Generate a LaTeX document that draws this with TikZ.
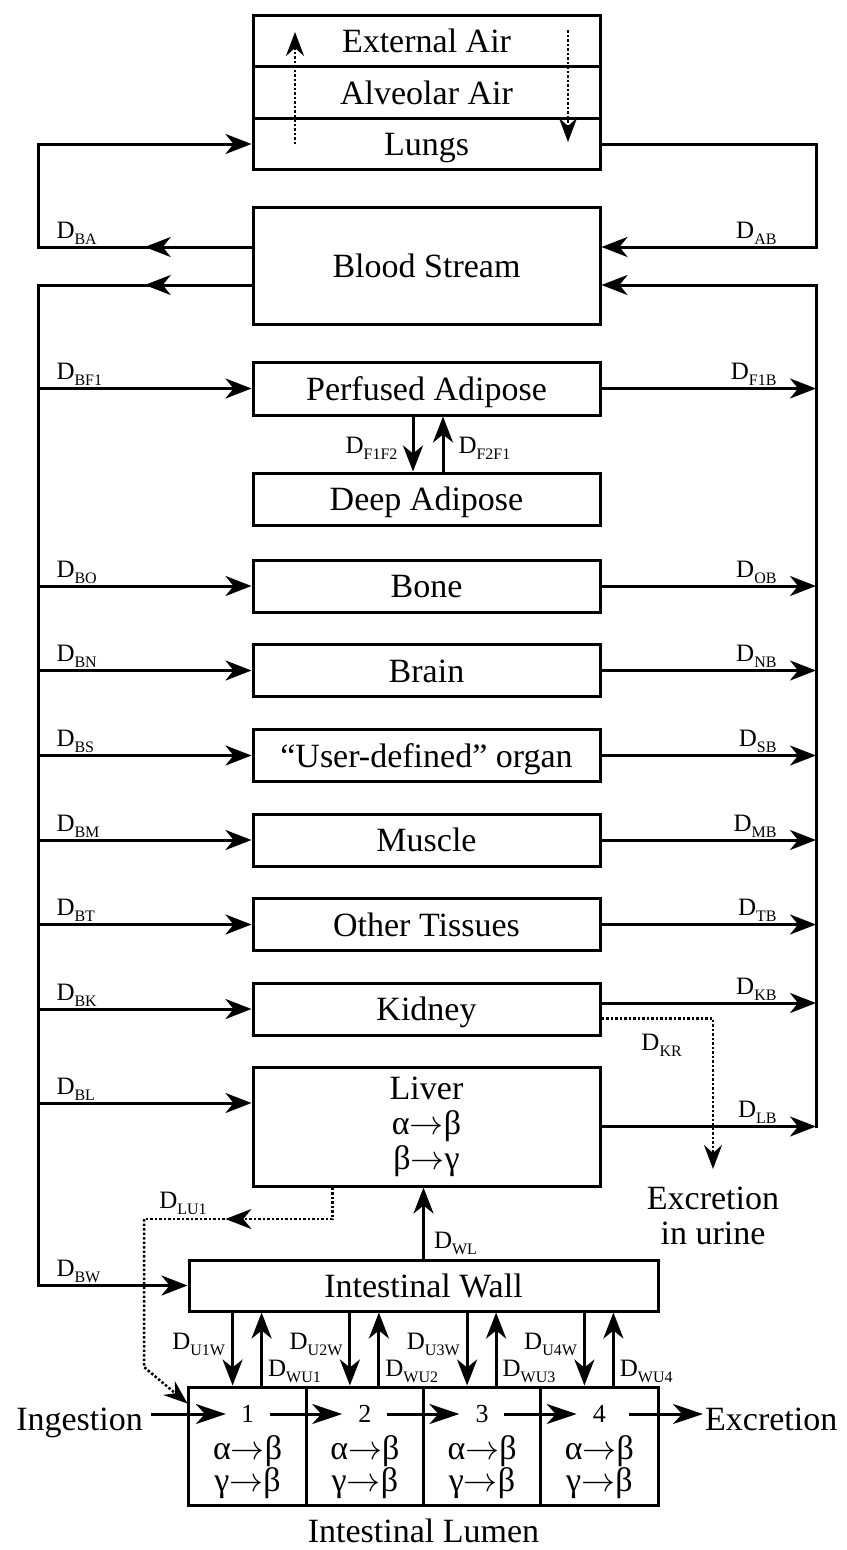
\RequirePackage{fix-cm}
\documentclass[tikz,border=0pt]{standalone}
\usepackage{fontspec}
\setmainfont{Liberation Serif}
\usetikzlibrary{arrows.meta,decorations.markings}

\newcommand{\flux}[1]{D\raisebox{-6pt}{\fontsize{16}{16}\selectfont #1}}
\newcommand{\rx}[2]{#1$\rightarrow$#2}

\tikzset{
  organ/.style={draw, line width=3pt, minimum width=347pt, minimum height=52pt,
    inner sep=0pt, font=\fontsize{34}{34}\selectfont},
  oneline/.style={organ, text height=23pt, text depth=0pt},
  cell/.style={draw, line width=3pt, minimum width=117.25pt, minimum height=118pt},
  txt/.style={inner sep=0pt, font=\fontsize{34}{34}\selectfont},
  lab/.style={inner sep=0pt, font=\fontsize{25}{25}\selectfont},
  inlab/.style={lab, pos=0, anchor=base west, xshift=17pt, yshift=9pt},
  outlab/.style={lab, pos=1, anchor=base east, xshift=-38pt, yshift=9pt},
  ln/.style={line width=3pt, line cap=rect},
  ar/.style={ln, -{Stealth[length=26pt, width=20pt, inset=8pt]}},
  flow/.style={ar, -{Stealth[length=30pt, width=20pt, inset=9pt]}, shorten <=17pt, shorten >=16pt},
  dotline/.style={line width=2.5pt, dash pattern=on 2.5pt off 2pt},
  dotar/.style={dotline, -{Stealth[length=24pt, width=18pt, inset=8pt]}},
  midar/.style={postaction={decorate}, decoration={markings,
    mark=at position #1 with {\arrow{Stealth[length=26pt, width=20pt, inset=8pt]}}}},
}

\begin{document}
\begin{tikzpicture}[x=1pt, y=-1pt]
\useasboundingbox (0,0) rectangle (846,1550);

\node[oneline, minimum height=51.7pt] (ext) at (426.5,41) {External Air};
\node[oneline, minimum height=51.7pt] (alv) at (426.5,92.5) {Alveolar Air};
\node[oneline, minimum height=51.7pt] (lungs) at (426.5,144) {Lungs};
\node[oneline, minimum height=117pt] (blood) at (426.5,265.5) {Blood Stream};
\node[oneline, minimum height=53pt] (perf) at (426.5,388.5) {Perfused Adipose};
\node[oneline] (deep) at (426.5,499) {Deep Adipose};
\node[oneline] (bone) at (426.5,586) {Bone};
\node[oneline] (brain) at (426.5,670.5) {Brain};
\node[oneline] (user) at (426.5,755.5) {“User-defined” organ};
\node[oneline] (muscle) at (426.5,840) {Muscle};
\node[oneline] (other) at (426.5,924.5) {Other Tissues};
\node[oneline] (kidney) at (426.5,1009) {Kidney};
\node[organ, minimum height=119pt, align=center, font=\fontsize{34}{35}\selectfont] (liver) at (426.5,1126.5) {Liver\\\rx{α}{β}\\\rx{β}{γ}};
\node[oneline, minimum width=469pt, minimum height=51pt] (wall) at (423.5,1285.5) {Intestinal Wall};
\node[txt, align=center, anchor=north, font=\fontsize{34}{35}\selectfont] (urine) at (713,1187) {Excretion\\in urine};

\coordinate (lb) at (38,285);
\coordinate (rb) at (816,285);
\coordinate (ba) at (38,247);
\coordinate (ab) at (816,247);

% air exchange
\draw[dotar] ([xshift=-131.5pt]lungs.center) -- ([xshift=-131.5pt, yshift=9pt]ext.center);
\draw[dotar] ([xshift=141.5pt, yshift=11pt]ext.center) -- ([xshift=141.5pt, yshift=2pt]lungs.center);

\draw[ln, midar=0.5] ([yshift=18.5pt]blood.west) -- node[lab, pos=1, anchor=base west, xshift=17pt, yshift=9pt] {\flux{BA}} (ba);
\draw[ar] (ba) |- (lungs.west);
\draw[ar] (lungs.east) -| (ab) -- node[outlab, pos=0] {\flux{AB}} ([yshift=18.5pt]blood.east);

\draw[ln, midar=0.5] ([yshift=-19.5pt]blood.west) -- (lb);
\draw[ar] (lb) |- node[inlab, pos=0.5] {\flux{BW}} (wall.west);
\draw[ar] (liver.east -| rb) -- (rb) -- ([yshift=-19.5pt]blood.east);

\foreach \n/\l/\r in {perf/BF1/F1B, bone/BO/OB, brain/BN/NB, user/BS/SB, muscle/BM/MB, other/BT/TB} {
  \draw[ar] (\n.west -| lb) -- node[inlab] {\flux{\l}} (\n.west);
  \draw[ar] (\n.east) -- node[outlab] {\flux{\r}} (\n.east -| rb);
}

\draw[ar] ([xshift=-13.5pt]perf.south) -- node[lab, left, xshift=-14pt, yshift=-4pt] {\flux{F1F2}} ([xshift=-13.5pt]deep.north);
\draw[ar] ([xshift=16.5pt]deep.north) -- node[lab, right, xshift=14pt, yshift=-4pt] {\flux{F2F1}} ([xshift=16.5pt]perf.south);

% kidney
\coordinate (kb) at ([yshift=6pt]kidney.east);
\coordinate (kr) at ([yshift=-9.5pt]kidney.east);
\draw[ar] (kidney.west -| lb) -- node[inlab] {\flux{BK}} (kidney.west);
\draw[ar] (kb) -- node[outlab] {\flux{KB}} (kb -| rb);
\draw[dotar] (kr) -| node[lab, pos=0.5, anchor=base east, xshift=-30pt, yshift=-32pt] {\flux{KR}} ([yshift=18pt]urine.north);

% liver
\coordinate (bl) at ([yshift=23.5pt]liver.west);
\draw[ar] (bl -| lb) -- node[inlab] {\flux{BL}} (bl);
\draw[ar] (liver.east) -- node[outlab] {\flux{LB}} (liver.east -| rb);
\draw[ar] (wall.north) -- node[lab, pos=0.14, anchor=base west, xshift=9pt] {\flux{WL}} (wall.north |- liver.south);

% intestinal lumen
\foreach \i/\x in {1/247.6, 2/364.9, 3/482.1, 4/599.4} {
  \node[cell] (c\i) at (\x,1446) {};
  \node[txt, font=\fontsize{26}{26}\selectfont] (n\i) at (\x,1414) {\i};
  \node[txt, align=center, font=\fontsize{34}{30}\selectfont] (r\i) at (\x,1467) {\rx{α}{β}\\\rx{γ}{β}};
  \coordinate (d\i) at ([xshift=-15pt]c\i.north);
  \coordinate (u\i) at ([xshift=14pt]c\i.north);
  \draw[ar] (d\i |- wall.south) -- node[lab, pos=0.51, anchor=base east, xshift=-6pt] {\flux{U\i W}} (d\i);
  \draw[ar] (u\i) -- node[lab, pos=0.13, anchor=base west, xshift=5pt] {\flux{WU\i}} (u\i |- wall.south);
}
\node[txt, anchor=base east] (ing) at (143,1430) {Ingestion};
\node[txt, anchor=base west] (exc) at (705,1430) {Excretion};
\node[txt, anchor=base] (lumen) at (423.5,1542) {Intestinal Lumen};
\draw[flow, shorten <=9pt, shorten >=15pt] (ing.east |- n1) -- (n1);
\foreach \a/\b in {1/2, 2/3, 3/4} \draw[flow] (n\a) -- (n\b);
\draw[flow, shorten <=24pt, shorten >=2pt] (n4) -- (n4 -| exc.west);

\coordinate (lu) at ([xshift=-94pt]liver.south);
\coordinate (luc) at (144,1219);
\coordinate (lud) at (144,1367);
\draw[dotline, midar=0.63] (lu) |- node[lab, pos=1, anchor=base west, xshift=14pt, yshift=11pt] {\flux{LU1}} (luc);
\draw[dotar] (luc) -- (lud) -- ([yshift=-18pt]c1.north west);
\end{tikzpicture}
\end{document}
